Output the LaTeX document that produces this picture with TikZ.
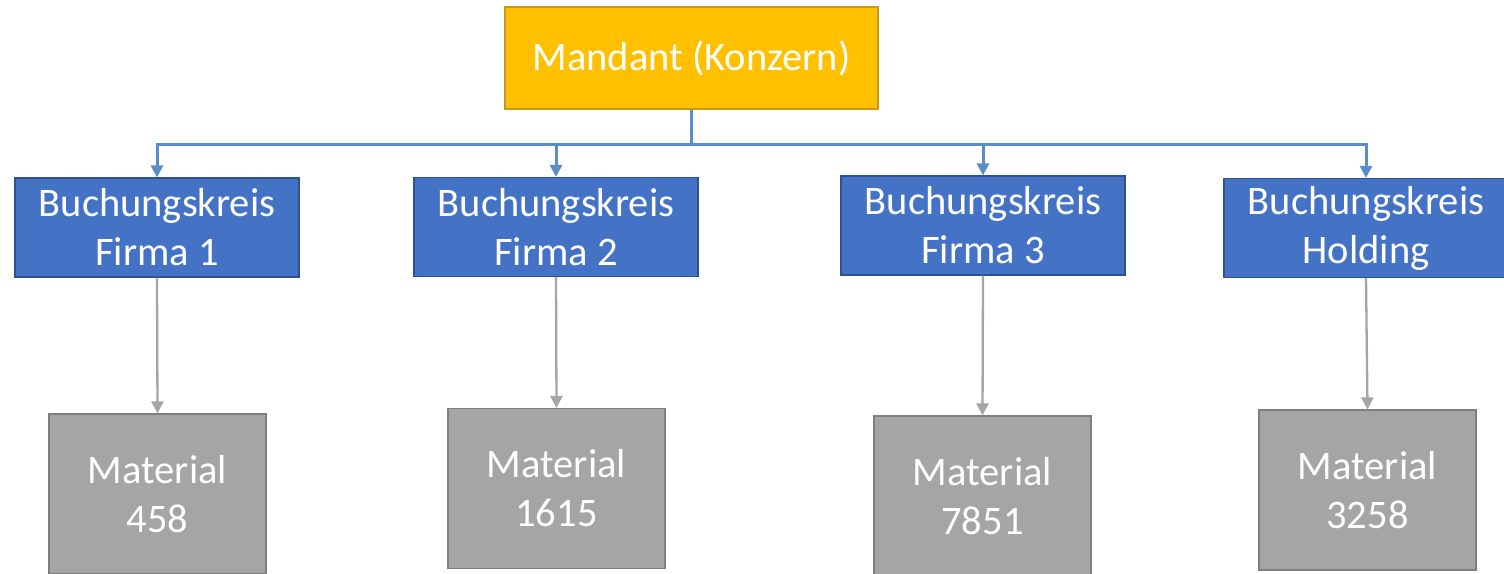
\documentclass[tikz,border=0pt]{standalone}
\usepackage{fontspec}
\setmainfont{Carlito}
\usetikzlibrary{arrows.meta}
\definecolor{orangefill}{HTML}{FFC000}
\definecolor{orangeline}{HTML}{C59A1A}
\definecolor{bluefill}{HTML}{4472C4}
\definecolor{blueline}{HTML}{2F528F}
\definecolor{grayfill}{HTML}{A5A5A5}
\definecolor{grayline}{HTML}{7F7F7F}
\definecolor{connblue}{HTML}{5A8CC8}
\definecolor{conngray}{HTML}{A5A5A5}
\begin{document}
\begin{tikzpicture}[x=1pt,y=-1pt,
  box/.style={rectangle, draw, line width=1.2pt, text=white, align=center, inner sep=0pt,
              font=\fontsize{40.5}{49}\selectfont},
  topbox/.style={box, fill=orangefill, draw=orangeline, minimum width=373pt, minimum height=102pt},
  bkbox/.style={box, fill=bluefill, draw=blueline, minimum width=284pt, minimum height=99pt},
  matbox/.style={box, fill=grayfill, draw=grayline, minimum width=217pt, minimum height=160pt},
  blueconn/.style={draw=connblue, line width=3pt, -{Triangle[length=12pt,width=12pt]}},
  grayconn/.style={draw=conngray, line width=2.3pt, -{Triangle[length=12pt,width=12pt]}}
]
\useasboundingbox (0,0) rectangle (1504,573);
\clip (0,0) rectangle (1504,573);
\fill[white] (0,0) rectangle (1504,573);

\node[topbox] (M) at (691.5,58) {Mandant (Konzern)};

\node[bkbox] (B1) at (157,227.5) {Buchungskreis\\Firma 1};
\node[bkbox] (B2) at (556,227) {Buchungskreis\\Firma 2};
\node[bkbox] (B3) at (983,225.5) {Buchungskreis\\Firma 3};
\node[bkbox] (B4) at (1366,228) {Buchungskreis\\Holding};

\node[matbox] (G1) at (157.5,494) {Material\\458};
\node[matbox] (G2) at (556.5,488.5) {Material\\1615};
\node[matbox] (G3) at (982.5,496) {Material\\7851};
\node[matbox] (G4) at (1367.5,490) {Material\\3258};

\coordinate (bus) at (691.5,144);

\draw[blueconn] (M.south) -- (bus) -| (B1.north);
\draw[blueconn] (M.south) -- (bus) -| (B2.north);
\draw[blueconn] (M.south) -- (bus) -| (B3.north);
\draw[blueconn] (M.south) -- (bus) -| (B4.north);

\draw[grayconn] (B1.south) -- (G1.north);
\draw[grayconn] (B2.south) -- (G2.north);
\draw[grayconn] (B3.south) -- (G3.north);
\draw[grayconn] (B4.south) -- (G4.north);
\end{tikzpicture}
\end{document}
